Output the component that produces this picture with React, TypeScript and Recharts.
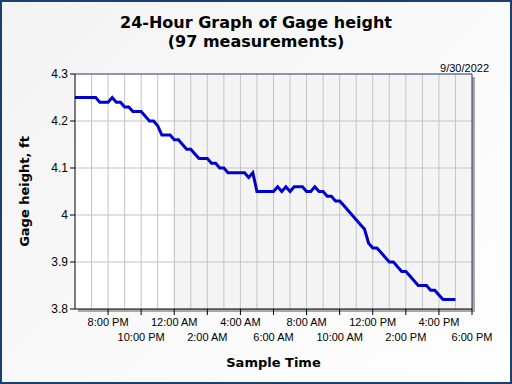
import React from "react";
import {
  LineChart,
  Line,
  XAxis,
  YAxis,
  ReferenceArea,
  ReferenceLine,
} from "recharts";

// gage height every 15 minutes, 5:00 PM 9/29 to 5:00 PM 9/30 (ft)
const gageHeight = [
  4.25, 4.25, 4.25, 4.25, 4.25, 4.25, 4.25, 4.25, 4.25, 4.25,
  4.24, 4.24, 4.24, 4.25, 4.24, 4.24, 4.23, 4.23, 4.22, 4.22,
  4.22, 4.21, 4.2, 4.2, 4.19, 4.17, 4.17, 4.17, 4.16, 4.16,
  4.15, 4.14, 4.14, 4.13, 4.12, 4.12, 4.12, 4.11, 4.11, 4.1,
  4.1, 4.09, 4.09, 4.09, 4.09, 4.09, 4.08, 4.09, 4.05, 4.05,
  4.05, 4.05, 4.05, 4.06, 4.05, 4.06, 4.05, 4.06, 4.06, 4.06,
  4.05, 4.05, 4.06, 4.05, 4.05, 4.04, 4.04, 4.03, 4.03, 4.02,
  4.01, 4.0, 3.99, 3.98, 3.97, 3.94, 3.93, 3.93, 3.92, 3.91,
  3.9, 3.9, 3.89, 3.88, 3.88, 3.87, 3.86, 3.85, 3.85, 3.85,
  3.84, 3.84, 3.83, 3.82, 3.82, 3.82, 3.82,
];

// hours after 6:00 PM of the first sample, and the sample spacing
const firstSampleHour = -1;
const sampleStepHours = 0.25;

const hourTicks = [2, 4, 6, 8, 10, 12, 14, 16, 18, 20, 22, 24];
const tickLabels = [
  "8:00 PM",
  "10:00 PM",
  "12:00 AM",
  "2:00 AM",
  "4:00 AM",
  "6:00 AM",
  "8:00 AM",
  "10:00 AM",
  "12:00 PM",
  "2:00 PM",
  "4:00 PM",
  "6:00 PM",
];
const hourGrid = [1, 2, 3, 4, 5, 6, 7, 8, 9, 10, 11, 12, 13, 14, 15, 16, 17, 18, 19, 20, 21, 22, 23];
const yTicks = [3.8, 3.9, 4, 4.1, 4.2, 4.3];
const midnightHour = 6;

const data = gageHeight.map((v, i) => ({
  hour: firstSampleHour + i * sampleStepHours,
  height: v,
}));

const sans = "'Liberation Sans', Arial, sans-serif";
const bold = "'DejaVu Sans', Verdana, sans-serif";

function TimeTick(props: any) {
  const { x, y, payload } = props;
  const idx = hourTicks.indexOf(payload.value);
  const row = idx % 2;
  return (
    <text
      x={x}
      y={y + 8.5 + row * 15}
      textAnchor="middle"
      fontSize={11}
      fontFamily={sans}
      fill="#000"
    >
      {tickLabels[idx]}
    </text>
  );
}

export default function App() {
  return (
    <div
      style={{
        position: "absolute",
        left: 0,
        top: 0,
        width: 512,
        height: 384,
        background: "linear-gradient(135deg, #f3f3f3 0%, #fafafa 60%, #ffffff 100%)",
        overflow: "hidden",
      }}
    >
      {/* plot shadow */}
      <div
        style={{
          position: "absolute",
          left: 78,
          top: 77,
          width: 397,
          height: 235,
          background: "#a8a8a8",
        }}
      />
      <div style={{ position: "absolute", left: 0, top: 0 }}>
        <LineChart
          width={512}
          height={384}
          data={data}
          margin={{ top: 74, right: 40, left: 15, bottom: 15 }}
        >
          <XAxis
            dataKey="hour"
            type="number"
            domain={[0, 24]}
            allowDataOverflow
            ticks={hourTicks}
            interval={0}
            height={60}
            tickSize={6}
            tick={<TimeTick />}
            axisLine={{ stroke: "#000" }}
            tickLine={{ stroke: "#000" }}
          />
          <YAxis
            type="number"
            domain={[3.8, 4.3]}
            allowDataOverflow
            ticks={yTicks}
            interval={0}
            width={60}
            tickSize={5}
            tick={{ fontSize: 12, fill: "#000", fontFamily: sans }}
            tickFormatter={(v: number) => String(v)}
            axisLine={{ stroke: "#000" }}
            tickLine={{ stroke: "#000" }}
          />
          <ReferenceArea x1={0} x2={midnightHour} y1={3.8} y2={4.3} fill="#ffffff" fillOpacity={1} stroke="none" />
          <ReferenceArea x1={midnightHour} x2={24} y1={3.8} y2={4.3} fill="#f4f4f4" fillOpacity={1} stroke="none" />
          {hourGrid.map((h) => (
            <ReferenceLine key={"v" + h} x={h} stroke="#c4c4c4" strokeWidth={1} />
          ))}
          {yTicks.slice(1, -1).map((t) => (
            <ReferenceLine key={"h" + t} y={t} stroke="#c4c4c4" strokeWidth={1} />
          ))}
          <ReferenceLine y={4.3} stroke="#1f3864" strokeWidth={1} />
          <ReferenceLine x={24} stroke="#1f3864" strokeWidth={1} />
          <Line
            type="linear"
            dataKey="height"
            stroke="#0000cc"
            strokeWidth={3}
            dot={false}
            isAnimationActive={false}
          />
        </LineChart>
      </div>
      <svg
        width={512}
        height={384}
        style={{ position: "absolute", left: 0, top: 0, pointerEvents: "none" }}
      >
        <text x={256} y={28} textAnchor="middle" fontFamily={bold} fontWeight="bold" fontSize={16} fill="#000">
          24-Hour Graph of Gage height
        </text>
        <text x={256} y={47} textAnchor="middle" fontFamily={bold} fontWeight="bold" fontSize={16} fill="#000">
          (97 measurements)
        </text>
        <text x={489} y={72} textAnchor="end" fontFamily={sans} fontSize={11} fill="#000">
          9/30/2022
        </text>
        <text x={273.5} y={367} textAnchor="middle" fontFamily={bold} fontWeight="bold" fontSize={13} fill="#000">
          Sample Time
        </text>
        <text
          x={0}
          y={0}
          transform="translate(29 191.5) rotate(-90)"
          textAnchor="middle"
          fontFamily={bold}
          fontWeight="bold"
          fontSize={13}
          fill="#000"
        >
          Gage height, ft
        </text>
        <rect x={1} y={1} width={510} height={382} fill="none" stroke="#1c3f6e" strokeWidth={2} />
      </svg>
    </div>
  );
}
